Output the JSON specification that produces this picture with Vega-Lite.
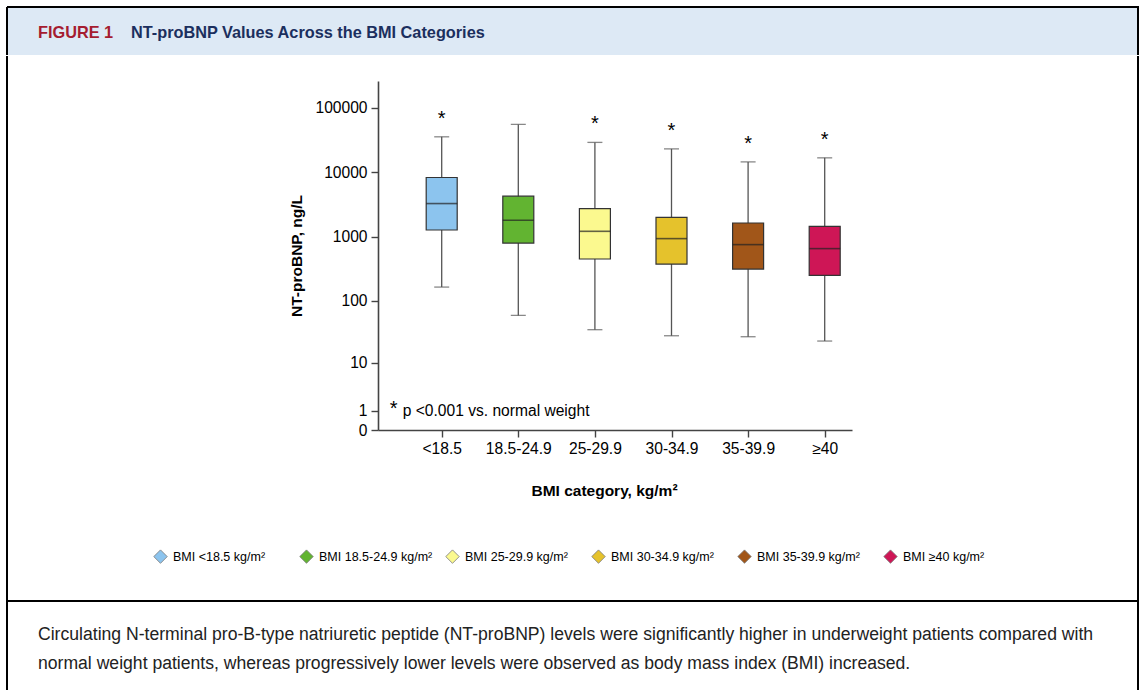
{
  "$schema": "https://vega.github.io/schema/vega-lite/v6.json",
  "background": "white",
  "padding": {"left": 6, "top": 6, "right": 4, "bottom": 0},
  "spacing": -2,
  "config": {
    "font": "Liberation Sans",
    "view": {"stroke": null}
  },
  "datasets": {
    "boxes": [
      {"cat": "<18.5", "group": "BMI <18.5 kg/m²", "lo": 164, "q1": 1267, "med": 3260, "q3": 8270, "hi": 35400, "sig": "*"},
      {"cat": "18.5-24.9", "group": "BMI 18.5-24.9 kg/m²", "lo": 59, "q1": 795, "med": 1792, "q3": 4240, "hi": 55200, "sig": ""},
      {"cat": "25-29.9", "group": "BMI 25-29.9 kg/m²", "lo": 35, "q1": 449, "med": 1209, "q3": 2725, "hi": 29000, "sig": "*"},
      {"cat": "30-34.9", "group": "BMI 30-34.9 kg/m²", "lo": 28, "q1": 375, "med": 931, "q3": 1995, "hi": 23000, "sig": "*"},
      {"cat": "35-39.9", "group": "BMI 35-39.9 kg/m²", "lo": 27, "q1": 313, "med": 751, "q3": 1627, "hi": 14450, "sig": "*"},
      {"cat": "≥40", "group": "BMI ≥40 kg/m²", "lo": 23, "q1": 250, "med": 651, "q3": 1446, "hi": 16700, "sig": "*"}
    ],
    "note": [
      {"cat": "<18.5", "v": 1, "t": "p <0.001 vs. normal weight", "star": "*"}
    ]
  },
  "vconcat": [
    {
      "width": 1131,
      "height": 48,
      "view": {"fill": "#DDE9F5", "stroke": "black", "strokeWidth": 2, "strokeDash": [1179, 1131, 48, 0]},
      "data": {"values": [
        {"part": "label", "t": "FIGURE 1"},
        {"part": "title", "t": "NT-proBNP Values Across the BMI Categories"}
      ]},
      "mark": {"type": "text", "align": "left", "baseline": "middle", "fontWeight": "bold", "fontSize": 16.3, "dy": 2, "font": "Liberation Sans"},
      "encoding": {
        "x": {"field": "part", "type": "nominal", "sort": null, "scale": {"type": "point", "domain": ["label", "title"], "range": [31, 124], "padding": 0}, "axis": null},
        "text": {"field": "t"},
        "color": {"field": "part", "type": "nominal", "scale": {"domain": ["label", "title"], "range": ["#A51C30", "#1B2F5E"]}, "legend": null}
      }
    },
    {
      "width": 1131,
      "height": 545,
      "view": {"stroke": "black", "strokeWidth": 2, "strokeDash": [0, 1131, 2221, 0]},
      "data": {"name": "boxes"},
      "encoding": {
        "x": {
          "field": "cat",
          "type": "ordinal",
          "sort": null,
          "scale": {"type": "point", "domain": ["<18.5", "18.5-24.9", "25-29.9", "30-34.9", "35-39.9", "≥40"], "range": [371, 845], "padding": 0.594, "align": 0.7},
          "axis": {
            "orient": "bottom",
            "offset": -171,
            "title": "BMI category, kg/m²",
            "titleFont": "Liberation Sans",
            "titleFontSize": 15.5,
            "titleFontWeight": "bold",
            "titleColor": "black",
            "titlePadding": 27,
            "titleX": 597,
            "labelAngle": 0,
            "labelFontSize": 15.6,
            "labelColor": "black",
            "labelPadding": 4,
            "tickSize": 7,
            "tickColor": "#444",
            "tickWidth": 1.4,
            "domainColor": "#444",
            "domainWidth": 1.6,
            "grid": false
          }
        }
      },
      "layer": [
        {
          "mark": {"type": "rule", "color": "#555", "strokeWidth": 1.3},
          "encoding": {
            "y": {
              "field": "lo",
              "type": "quantitative",
              "scale": {"type": "symlog", "constant": 1, "domain": [0, 260000], "range": [374, 25], "nice": false, "zero": false},
              "axis": {
                "orient": "left",
                "offset": -371,
                "values": [0, 1, 10, 100, 1000, 10000, 100000],
                "format": "d",
                "title": "NT-proBNP, ng/L",
                "titleFont": "Liberation Sans",
                "titleFontSize": 15.5,
                "titleFontWeight": "bold",
                "titleColor": "black",
                "titlePadding": 10,
                "labelFontSize": 15.6,
                "labelColor": "black",
                "labelPadding": 4,
                "tickSize": 7,
                "tickColor": "#444",
                "tickWidth": 1.4,
                "domainColor": "#444",
                "domainWidth": 1.6,
                "grid": false
              }
            },
            "y2": {"field": "hi"}
          }
        },
        {
          "mark": {"type": "tick", "color": "#555", "thickness": 1.3, "size": 15, "orient": "horizontal"},
          "encoding": {"y": {"field": "lo", "type": "quantitative"}}
        },
        {
          "mark": {"type": "tick", "color": "#555", "thickness": 1.3, "size": 15, "orient": "horizontal"},
          "encoding": {"y": {"field": "hi", "type": "quantitative"}}
        },
        {
          "mark": {"type": "bar", "width": 31, "stroke": "#333", "strokeWidth": 1.2},
          "encoding": {
            "y": {"field": "q1", "type": "quantitative"},
            "y2": {"field": "q3"},
            "fill": {
              "field": "group",
              "type": "nominal",
              "sort": null,
              "scale": {
                "domain": ["BMI <18.5 kg/m²", "BMI 18.5-24.9 kg/m²", "BMI 25-29.9 kg/m²", "BMI 30-34.9 kg/m²", "BMI 35-39.9 kg/m²", "BMI ≥40 kg/m²"],
                "range": ["#8CC4EE", "#62B431", "#FBF98F", "#E5C22C", "#A15619", "#CE1656"]
              },
              "legend": {
                "orient": "none",
                "legendX": 146,
                "legendY": 542,
                "direction": "horizontal",
                "columns": 6,
                "title": null,
                "symbolType": "diamond",
                "symbolSize": 180,
                "symbolStrokeColor": "#777",
                "symbolStrokeWidth": 0.8,
                "symbolOpacity": 1,
                "labelFontSize": 12.5,
                "labelColor": "black",
                "labelOffset": 5,
                "columnPadding": 11,
                "gridAlign": "all",
                "padding": 0
              }
            }
          }
        },
        {
          "mark": {"type": "tick", "color": "#222", "thickness": 1.6, "size": 31, "orient": "horizontal"},
          "encoding": {"y": {"field": "med", "type": "quantitative"}}
        },
        {
          "mark": {"type": "text", "fontSize": 20, "baseline": "alphabetic", "dy": -12, "color": "black"},
          "encoding": {
            "y": {"field": "hi", "type": "quantitative"},
            "text": {"field": "sig"}
          }
        },
        {
          "data": {"name": "note"},
          "mark": {"type": "text", "fontSize": 15.6, "align": "left", "baseline": "middle", "dx": -39, "color": "black"},
          "encoding": {
            "x": {"field": "cat", "type": "ordinal"},
            "y": {"field": "v", "type": "quantitative"},
            "text": {"field": "t"}
          }
        },
        {
          "data": {"name": "note"},
          "mark": {"type": "text", "fontSize": 20, "align": "center", "baseline": "middle", "dx": -48, "dy": -2, "color": "black"},
          "encoding": {
            "x": {"field": "cat", "type": "ordinal"},
            "y": {"field": "v", "type": "quantitative"},
            "text": {"field": "star"}
          }
        }
      ]
    },
    {
      "width": 1131,
      "height": 100,
      "view": {"stroke": "black", "strokeWidth": 2, "strokeDash": [0, 1131, 1331, 0]},
      "data": {"values": [
        {"line": 1, "t": "Circulating N-terminal pro-B-type natriuretic peptide (NT-proBNP) levels were significantly higher in underweight patients compared with"},
        {"line": 2, "t": "normal weight patients, whereas progressively lower levels were observed as body mass index (BMI) increased."}
      ]},
      "mark": {"type": "text", "align": "left", "baseline": "middle", "fontSize": 17.6, "color": "#222", "font": "Liberation Sans", "dx": -534.5},
      "encoding": {
        "y": {"field": "line", "type": "ordinal", "scale": {"type": "point", "range": [33, 62], "padding": 0}, "axis": null},
        "text": {"field": "t"}
      }
    }
  ]
}
